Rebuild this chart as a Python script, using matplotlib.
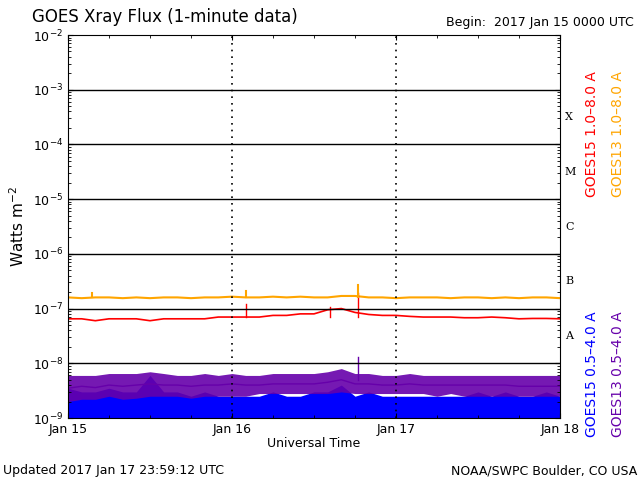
import matplotlib
matplotlib.use("Agg")
import matplotlib.pyplot as plt
import numpy as np

hours = list(range(0, 73, 2))
g13_long = [1.6,1.55,1.6,1.6,1.55,1.6,1.55,1.6,1.6,1.55,1.6,1.6,1.65,1.6,1.6,1.65,1.6,1.65,1.6,1.6,1.7,1.7,1.6,1.6,1.55,1.6,1.6,1.6,1.55,1.6,1.6,1.55,1.6,1.55,1.6,1.6,1.55]
g15_long = [0.65,0.65,0.6,0.65,0.65,0.65,0.6,0.65,0.65,0.65,0.65,0.7,0.7,0.7,0.7,0.75,0.75,0.8,0.8,0.95,1.0,0.85,0.78,0.75,0.75,0.72,0.7,0.7,0.7,0.68,0.68,0.7,0.68,0.65,0.66,0.66,0.65]
g13_lo = [2.0,2.2,2.2,2.5,2.2,2.3,2.5,2.5,2.5,2.3,2.5,2.5,2.5,2.5,2.8,2.8,2.8,2.8,2.8,2.8,3.0,2.8,2.8,2.8,2.8,2.8,2.8,2.5,2.8,2.5,2.5,2.5,2.5,2.5,2.5,2.5,2.5]
g13_hi = [6.0,6.0,6.0,6.5,6.5,6.5,7.0,6.5,6.0,6.0,6.5,6.0,6.5,6.0,6.0,6.5,6.5,6.5,6.5,7.0,8.0,6.5,6.5,6.0,6.0,6.5,6.0,6.0,6.0,6.0,6.0,6.0,6.0,6.0,6.0,6.0,6.0]
g13_mid = [3.5,3.8,3.6,4.0,3.8,4.0,4.2,4.0,4.0,3.8,4.0,4.0,4.2,4.0,4.0,4.2,4.2,4.2,4.2,4.5,5.0,4.2,4.2,4.0,4.0,4.2,4.0,4.0,4.0,4.0,4.0,4.0,4.0,3.8,3.8,3.8,3.8]
g15_lo = [1.0]*37
g15_hi = [3.5,3.0,3.0,3.5,3.0,3.0,6.0,3.0,3.0,2.5,3.0,2.5,2.5,2.5,2.5,3.0,2.5,2.5,3.0,3.0,4.0,2.5,3.0,2.5,2.5,2.5,2.5,2.5,2.5,2.5,3.0,2.5,3.0,2.5,2.5,3.0,2.5]
spikes_t = [26.0, 38.4, 42.4]
spikes_15 = [1.2e-7, 1.05e-7, 1.9e-7]
spikes13_t = [3.5, 26.0, 42.4]
spikes13_v = [1.9e-7, 2.1e-7, 2.7e-7]
spike13s_t, spike13s_v = 42.4, 1.3e-8

fig = plt.figure(figsize=(6.4, 4.8), dpi=100)
ax = fig.add_axes([68/640, 1-418/480, (560-68)/640, (418-35)/480])
t = np.array(hours) / 24.0
ax.fill_between(t, np.array(g15_lo)*1e-9, np.array(g15_hi)*1e-9, color='#0000ff', lw=0)
ax.fill_between(t, np.array(g13_lo)*1e-9, np.array(g13_hi)*1e-9, color='#6600aa', lw=0, alpha=0.9)
ax.plot(t, np.array(g13_mid)*1e-9, color='#6600aa', lw=1)
ax.plot(t, np.array(g13_long)*1e-7, color='#ffa500', lw=1.5)
ax.plot(t, np.array(g15_long)*1e-7, color='#ff0000', lw=1.2)
for st, sv in zip(spikes_t, spikes_15):
    ax.plot([st/24, st/24], [7e-8, sv], color='#ff0000', lw=1)
for st, sv in zip(spikes13_t, spikes13_v):
    ax.plot([st/24]*2, [1.6e-7, sv], color='#ffa500', lw=1.5)
ax.plot([spike13s_t/24]*2, [5e-9, spike13s_v], color='#6600aa', lw=1)

ax.set_yscale('log')
ax.set_ylim(1e-9, 1e-2)
ax.set_xlim(0, 3)
for e in range(-8, -2):
    ax.axhline(10.0**e, color='k', lw=1)
for d in [1, 2]:
    ax.axvline(d, color='k', lw=1.2, ls=(0, (1, 3)))
ax.set_xticks([0, 1, 2, 3])
ax.set_xticklabels(['Jan 15', 'Jan 16', 'Jan 17', 'Jan 18'])
ax.set_xticks(np.arange(0, 3.01, 0.25), minor=True)
ax.tick_params(axis='both', direction='in', labelsize=9, right=True, top=True, which='both')
ax.set_xlabel('Universal Time', fontsize=9, labelpad=1)
ax.set_ylabel('Watts m$^{-2}$', fontsize=11)
for lab, e in zip(['A', 'B', 'C', 'M', 'X'], [-7.5, -6.5, -5.5, -4.5, -3.5]):
    ax.text(3.03, 10**e, lab, fontsize=8, family='serif', va='center', transform=ax.transData, clip_on=False)
fig.text(0.05, 0.955, 'GOES Xray Flux (1-minute data)', fontsize=12)
fig.text(0.99, 0.945, 'Begin:  2017 Jan 15 0000 UTC', fontsize=9, ha='right')
fig.text(0.005, 0.012, 'Updated 2017 Jan 17 23:59:12 UTC', fontsize=9)
fig.text(0.995, 0.012, 'NOAA/SWPC Boulder, CO USA', fontsize=9, ha='right')
fig.text(0.925, 0.72, 'GOES15 1.0\u20138.0 A', color='#ff0000', rotation=90, fontsize=10, ha='center', va='center')
fig.text(0.965, 0.72, 'GOES13 1.0\u20138.0 A', color='#ffa500', rotation=90, fontsize=10, ha='center', va='center')
fig.text(0.925, 0.22, 'GOES15 0.5\u20134.0 A', color='#0000ff', rotation=90, fontsize=10, ha='center', va='center')
fig.text(0.965, 0.22, 'GOES13 0.5\u20134.0 A', color='#6600aa', rotation=90, fontsize=10, ha='center', va='center')
fig.savefig('out.png', dpi=100)
